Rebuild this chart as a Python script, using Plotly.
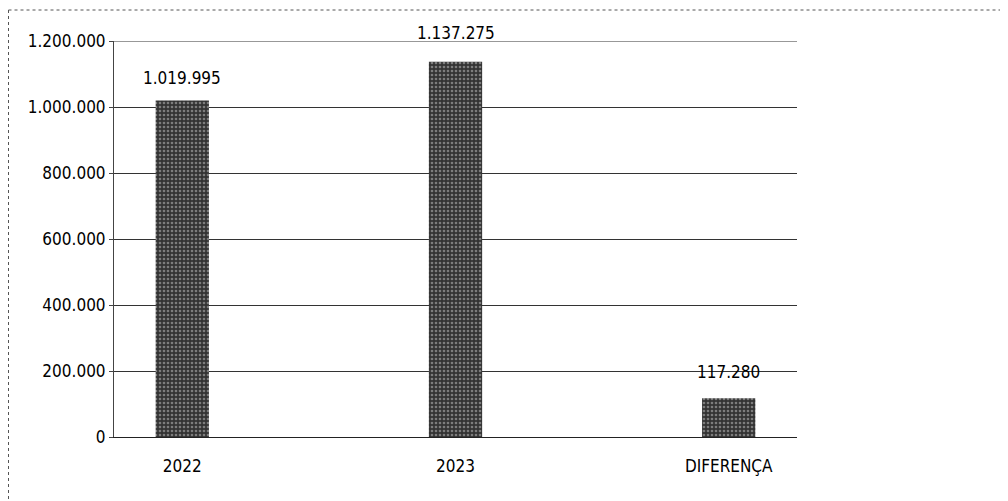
import plotly.graph_objects as go

categories = ["2022", "2023", "DIFERENÇA"]
values = [1019995, 1137275, 117280]
label_texts = ["1.019.995", "1.137.275", "117.280"]
label_shift = [22, 29, 26]
y_ticks = [0, 200000, 400000, 600000, 800000, 1000000, 1200000]
y_tick_labels = ["0", "200.000", "400.000", "600.000", "800.000", "1.000.000", "1.200.000"]

FONT = "Liberation Sans Narrow, DejaVu Sans Condensed, Arial Narrow, sans-serif"
xpos = list(range(len(categories)))

# page has an 8px body margin, so the figure is sized/offset to compensate
W, H = 1000, 493
L, R, T, B = 106, 211, 33, 64
PW, PH = W - L - R, H - T - B

fig = go.Figure()
fig.add_trace(go.Bar(
    x=xpos, y=values, width=0.195,
    marker=dict(color="#4d4d4d", line=dict(width=0),
                pattern=dict(shape=".", fgcolor="#c8c8c8", bgcolor="#333333",
                             size=4, solidity=0.35)),
    hoverinfo="skip",
))

for x, v, t, s in zip(xpos, values, label_texts, label_shift):
    fig.add_annotation(x=x, y=v, text=t, showarrow=False, yshift=s,
                       font=dict(family=FONT, size=17, color="#000"),
                       bgcolor="rgba(0,0,0,0)")

fig.update_layout(
    width=W, height=H,
    margin=dict(l=L, r=R, t=T, b=B),
    paper_bgcolor="white", plot_bgcolor="white",
    separators=",.",
    showlegend=False,
    font=dict(family=FONT, size=16, color="#000"),
    xaxis=dict(range=[-0.25, 2.25], tickvals=xpos, ticktext=categories,
               showgrid=False, zeroline=False, showline=True, linecolor="#222",
               linewidth=1, ticks="", ticklabelstandoff=14,
               tickfont=dict(size=17, family=FONT, color="#000")),
    yaxis=dict(range=[0, 1200000], tickvals=y_ticks, ticktext=y_tick_labels,
               showgrid=True, gridcolor="#333", gridwidth=1, zeroline=False,
               showline=True, linecolor="#444", linewidth=1,
               ticks="outside", ticklen=4, tickcolor="#444",
               tickfont=dict(size=17, family=FONT, color="#000")),
)

# top gridline at the upper edge of the value axis
fig.add_shape(type="line", xref="paper", yref="y", x0=0, x1=1,
              y0=y_ticks[-1], y1=y_ticks[-1], line=dict(color="#333", width=1))

# outer frame (dashed scan border)
top_y = (H - 2 - B) / PH
fig.add_shape(type="line", xref="paper", yref="paper",
              x0=(0.5 - L) / PW, x1=(W - L) / PW, y0=top_y, y1=top_y,
              line=dict(color="#555", width=1, dash="dot"))
fig.add_shape(type="line", xref="paper", yref="paper",
              x0=(0.5 - L) / PW, x1=(0.5 - L) / PW, y0=top_y, y1=-B / PH,
              line=dict(color="#555", width=1, dash="dot"))

fig.write_html("out.html")
